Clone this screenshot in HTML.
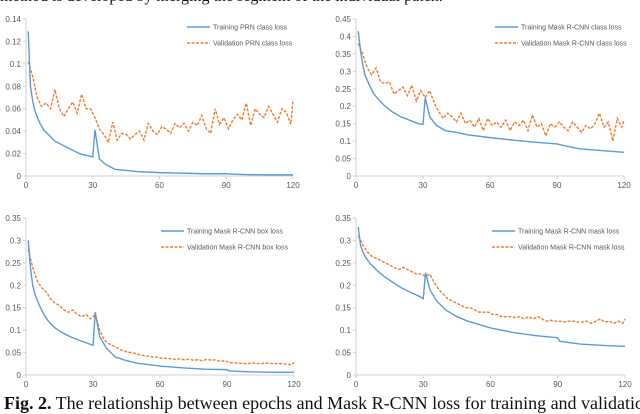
<!DOCTYPE html>
<html><head><meta charset="utf-8"><style>
body{margin:0;background:#fff;width:640px;height:413px;overflow:hidden;position:relative;font-family:"Liberation Serif",serif}
#top{position:absolute;left:0;top:-12px;font-size:16px;color:#111;white-space:nowrap}
#cap{position:absolute;left:4px;top:393px;font-size:18px;color:#111;white-space:nowrap}
svg{position:absolute;left:0;top:0}
</style></head><body>
<div id="top">method is developed by merging the segment of the individual patch.</div>
<svg id="chart" width="640" height="413"></svg>
<div id="cap"><b>Fig. 2.</b> The relationship between epochs and Mask R-CNN loss for training and validation</div>
<script>
const trainEpochs=[1,2,3,4,6,8,10,13,16,20,24,28,30,31,33,36,40,45,50,60,70,80,90,91,100,110,120];
const xTicks=[0,30,60,90,120];
const train1=[0.129,0.08,0.067,0.058,0.048,0.041,0.037,0.031,0.028,0.024,0.020,0.018,0.017,0.041,0.015,0.010,0.006,0.005,0.004,0.003,0.0025,0.002,0.002,0.0018,0.0012,0.001,0.001];
const val1=[0.102,0.089,0.07,0.062,0.065,0.06,0.077,0.06,0.053,0.06,0.066,0.056,0.073,0.06,0.06,0.052,0.042,0.037,0.03,0.048,0.032,0.038,0.037,0.033,0.037,0.04,0.032,0.047,0.04,0.037,0.044,0.042,0.038,0.047,0.043,0.047,0.04,0.048,0.045,0.054,0.042,0.038,0.06,0.046,0.052,0.042,0.05,0.055,0.05,0.065,0.045,0.06,0.055,0.052,0.062,0.055,0.048,0.06,0.057,0.046,0.068];
const train2=[0.415,0.36,0.32,0.29,0.26,0.235,0.22,0.2,0.185,0.17,0.16,0.15,0.148,0.225,0.17,0.145,0.13,0.125,0.118,0.11,0.103,0.097,0.092,0.09,0.078,0.073,0.068];
const val2=[0.38,0.35,0.31,0.29,0.31,0.27,0.265,0.27,0.235,0.245,0.255,0.23,0.26,0.215,0.245,0.225,0.245,0.21,0.185,0.165,0.18,0.17,0.155,0.18,0.15,0.16,0.14,0.165,0.13,0.165,0.145,0.155,0.14,0.16,0.13,0.155,0.145,0.16,0.13,0.175,0.14,0.15,0.115,0.15,0.14,0.155,0.14,0.13,0.155,0.14,0.125,0.145,0.135,0.15,0.18,0.14,0.155,0.1,0.165,0.14,0.16];
const train3=[0.3,0.24,0.2,0.18,0.155,0.135,0.12,0.105,0.095,0.085,0.077,0.07,0.066,0.14,0.085,0.06,0.04,0.032,0.026,0.02,0.016,0.013,0.012,0.009,0.007,0.006,0.006];
const val3=[0.28,0.24,0.21,0.195,0.185,0.17,0.16,0.155,0.145,0.14,0.145,0.135,0.13,0.135,0.125,0.135,0.1,0.078,0.07,0.065,0.06,0.055,0.052,0.05,0.048,0.045,0.043,0.042,0.04,0.04,0.037,0.037,0.036,0.035,0.036,0.034,0.035,0.033,0.034,0.032,0.035,0.033,0.034,0.03,0.032,0.028,0.027,0.026,0.026,0.025,0.027,0.026,0.025,0.027,0.026,0.025,0.026,0.025,0.024,0.023,0.028];
const train4=[0.33,0.29,0.275,0.265,0.25,0.24,0.23,0.218,0.208,0.195,0.185,0.176,0.17,0.228,0.19,0.165,0.145,0.13,0.12,0.105,0.095,0.088,0.083,0.075,0.069,0.066,0.064];
const val4=[0.31,0.29,0.275,0.265,0.26,0.255,0.25,0.245,0.24,0.235,0.24,0.235,0.23,0.225,0.225,0.22,0.225,0.205,0.19,0.18,0.17,0.165,0.16,0.155,0.15,0.15,0.145,0.14,0.14,0.14,0.135,0.135,0.13,0.13,0.13,0.128,0.13,0.125,0.13,0.125,0.13,0.125,0.12,0.122,0.12,0.12,0.118,0.12,0.12,0.118,0.118,0.12,0.115,0.12,0.125,0.118,0.12,0.115,0.12,0.115,0.125];
const yTicks1=[0,0.02,0.04,0.06,0.08,0.1,0.12,0.14];
const yTicks2=[0,0.05,0.1,0.15,0.2,0.25,0.3,0.35,0.4,0.45];
const yTicks3=[0,0.05,0.1,0.15,0.2,0.25,0.3,0.35];
const labels1=["Training PRN class loss","Validation PRN class loss"];
const labels2=["Training Mask R-CNN class loss","Validation Mask R-CNN class loss"];
const labels3=["Training Mask R-CNN box loss","Validation Mask R-CNN box loss"];
const labels4=["Training Mask R-CNN mask loss","Validation Mask R-CNN mask loss"];
const NS="http://www.w3.org/2000/svg";
const svg=document.getElementById('chart');
function mk(t,a,p){const e=document.createElementNS(NS,t);for(const k in a)e.setAttribute(k,a[k]);(p||svg).appendChild(e);return e;}
function panel(name,x0,x1,yTop,yBot,yTicks,train,val,labels,legX,legY){
  const g=mk('g',{});
  
  
  const ymax=yTicks[yTicks.length-1];
  const X=v=>x0+(x1-x0)*v/120, Y=v=>yBot-(yBot-yTop)*v/ymax;
  const ax=mk('path',{d:`M${x0} ${yTop}V${yBot}H${x1}`,stroke:'#d0d0d0','stroke-width':1,fill:'none'},g);
  
  
  yTicks.forEach(t=>{const tx=mk('text',{x:x0-5,y:Y(t)+3,'text-anchor':'end','font-size':8,fill:'#595959','font-family':'Liberation Sans,sans-serif'},g);tx.textContent=String(t);
    
    
    mk('line',{x1:x0-3,x2:x0,y1:Y(t),y2:Y(t),stroke:'#d0d0d0'},g);});
  xTicks.forEach(t=>{const tx=mk('text',{x:X(t),y:yBot+12,'text-anchor':'middle','font-size':8,fill:'#595959','font-family':'Liberation Sans,sans-serif'},g);tx.textContent=String(t);
    
    
    mk('line',{x1:X(t),x2:X(t),y1:yBot,y2:yBot+3,stroke:'#d0d0d0'},g);});
  const vp=val.map((v,i)=>[X(Math.min(1+2*i,120)),Y(v)]);
  const vl=mk('polyline',{points:vp.map(p=>p.join(',')).join(' '),fill:'none',stroke:'#ed7d31','stroke-width':1.4,'stroke-dasharray':'3,1.5'},g);
  
  
  const tp=train.map((v,i)=>[X(trainEpochs[i]),Y(v)]);
  const tl=mk('polyline',{points:tp.map(p=>p.join(',')).join(' '),fill:'none',stroke:'#5b9bd5','stroke-width':1.4},g);
  
  
  [0,1].forEach(i=>{const yy=legY+i*16;
    const ln=mk('line',{x1:legX,x2:legX+23,y1:yy,y2:yy,stroke:i?'#ed7d31':'#5b9bd5','stroke-width':1.4,'stroke-dasharray':i?'3,1.5':'none'},g);
    
    
    const tx=mk('text',{x:legX+26,y:yy+2.5,'font-size':7,fill:'#595959','font-family':'Liberation Sans,sans-serif'},g);tx.textContent=labels[i];
    
    });
}
panel('prn-class-loss-chart',26,293,19,176,yTicks1,train1,val1,labels1,187,27);
panel('class-loss-chart',356,624,19,176,yTicks2,train2,val2,labels2,495,27);
panel('box-loss-chart',26,294,218,375,yTicks3,train3,val3,labels3,161,231);
panel('mask-loss-chart',356,625,218,375,yTicks3,train4,val4,labels4,492,231);
</script>
</body></html>
